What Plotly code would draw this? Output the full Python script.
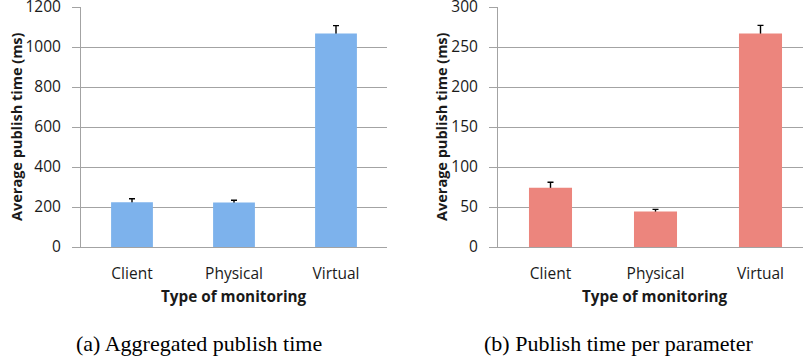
import plotly.graph_objects as go

categories = ["Client", "Physical", "Virtual"]
agg_values = [224, 223, 1068]
agg_err = [17, 11, 39]
per_values = [74, 44.5, 267]
per_err = [7, 2.5, 10]
agg_ticks = [0, 200, 400, 600, 800, 1000, 1200]
per_ticks = [0, 50, 100, 150, 200, 250, 300]

W, H = 803, 358
FONT = "Open Sans"
GRID = "#a3a3a3"
TXT = "#1a1a1a"

fig = go.Figure()

# error bars on the base axes (drawn below), bars on overlaying axes (drawn above)
fig.add_trace(go.Scatter(
    x=categories, y=agg_values, mode="markers", marker=dict(size=1, opacity=0),
    error_y=dict(type="data", array=agg_err, color="black", thickness=1.4, width=3),
    xaxis="x", yaxis="y", showlegend=False, hoverinfo="skip",
))
fig.add_trace(go.Scatter(
    x=categories, y=per_values, mode="markers", marker=dict(size=1, opacity=0),
    error_y=dict(type="data", array=per_err, color="black", thickness=1.4, width=3),
    xaxis="x2", yaxis="y2", showlegend=False, hoverinfo="skip",
))
fig.add_trace(go.Bar(
    x=categories, y=agg_values, width=0.41,
    marker=dict(color="#7db2ec", line=dict(width=0)),
    xaxis="x3", yaxis="y3", showlegend=False,
))
fig.add_trace(go.Bar(
    x=categories, y=per_values, width=0.41,
    marker=dict(color="#ec857d", line=dict(width=0)),
    xaxis="x4", yaxis="y4", showlegend=False,
))

ydom = [(H - 247) / H, (H - 7) / H]
xcommon = dict(type="category", showgrid=False, showline=True, linecolor=GRID, linewidth=1,
               ticks="", tickfont=dict(family=FONT, size=15.5, color=TXT),
               ticklabelstandoff=12, zeroline=False, fixedrange=True, automargin=False)
ycommon = dict(showgrid=True, gridcolor=GRID, gridwidth=1, showline=True, linecolor=GRID,
               linewidth=1, ticks="outside", ticklen=8, tickcolor=GRID,
               tickfont=dict(family=FONT, size=15.5, color=TXT), ticklabelstandoff=8,
               zeroline=False, domain=ydom, fixedrange=True, automargin=False,
               ticklabeloverflow="allow")
xr1 = [-0.5, 2.5]
xr2 = [-0.5, -0.5 + 305 / 105]

fig.update_layout(
    width=W, height=H,
    margin=dict(l=0, r=0, t=0, b=0),
    paper_bgcolor="white", plot_bgcolor="white",
    xaxis=dict(**xcommon, domain=[81 / W, 387 / W], range=xr1, anchor="y"),
    yaxis=dict(**ycommon, range=[0, 1200], tickvals=agg_ticks, anchor="x"),
    xaxis2=dict(**xcommon, domain=[498 / W, 1.0], range=xr2, anchor="y2"),
    yaxis2=dict(**ycommon, range=[0, 300], tickvals=per_ticks, anchor="x2"),
    xaxis3=dict(type="category", overlaying="x", range=xr1, visible=False, fixedrange=True),
    yaxis3=dict(overlaying="y", range=[0, 1200], visible=False, fixedrange=True),
    xaxis4=dict(type="category", overlaying="x2", range=xr2, visible=False, fixedrange=True),
    yaxis4=dict(overlaying="y2", range=[0, 300], visible=False, fixedrange=True),
)

ann = []
def a(x, y, text, size, bold=False, angle=0, family=FONT, color=TXT):
    ann.append(dict(x=x / W, y=(H - y) / H, xref="paper", yref="paper", text=text,
                    showarrow=False, textangle=angle, xanchor="center", yanchor="middle",
                    font=dict(family=family, size=size, color=color,
                              weight="bold" if bold else "normal")))

a(234, 296, "Type of monitoring", 15.3, bold=True)
a(655, 296, "Type of monitoring", 15.3, bold=True)
a(16, 127, "Average publish time (ms)", 14.5, bold=True, angle=-90)
a(441, 127, "Average publish time (ms)", 14.5, bold=True, angle=-90)
a(199, 343, "(a) Aggregated publish time", 22, family="Liberation Serif", color="black")
a(618, 343, "(b) Publish time per parameter", 22, family="Liberation Serif", color="black")
fig.update_layout(annotations=ann)

fig.write_html("out.html")
